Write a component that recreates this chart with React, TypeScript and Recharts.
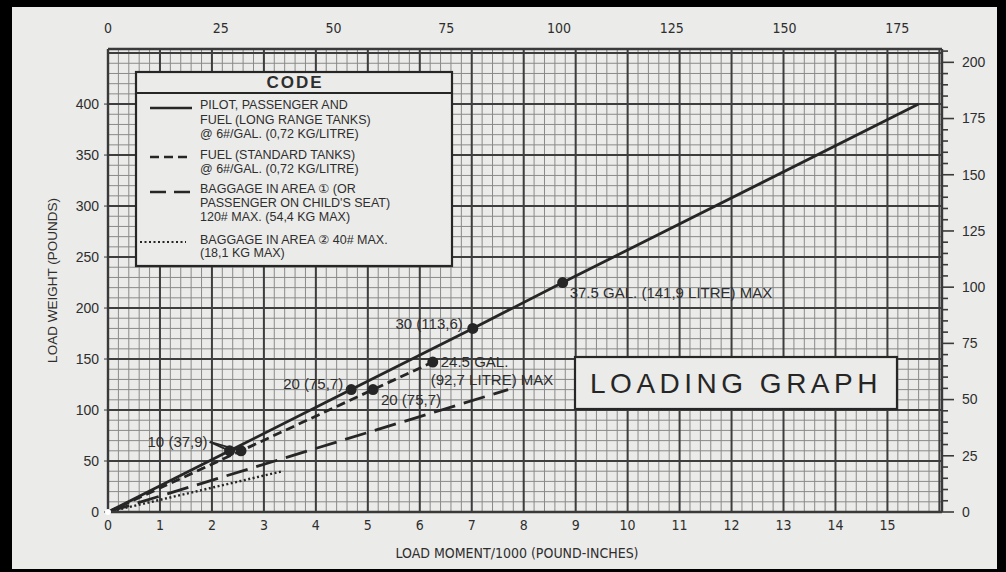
import React from 'react';
import { CartesianGrid, Line, LineChart, ReferenceDot, XAxis, YAxis } from 'recharts';

// load moment/1000 (pound-inches) against load weight (pounds)
const longRangeMoment = [0, 2.34, 4.68, 7.02, 8.75, 15.6];
const longRangeWeight = [0, 60, 120, 180, 225, 400];
const longRangeMarked = [60, 120, 180, 225];

const standardMoment = [0, 2.56, 5.1, 6.25];
const standardWeight = [0, 60, 120, 147];
const standardMarked = [60, 120, 147];

const baggage1Moment = [0, 7.7];
const baggage1Weight = [0, 120];

const baggage2Moment = [0, 3.36];
const baggage2Weight = [0, 40];

const momentTicks = [0, 1, 2, 3, 4, 5, 6, 7, 8, 9, 10, 11, 12, 13, 14, 15];
const weightTicks = [0, 50, 100, 150, 200, 250, 300, 350, 400];
const kgMomentTicks = [0, 25, 50, 75, 100, 125, 150, 175];
const kgWeightLabels = [0, 25, 50, 75, 100, 125, 150, 175, 200];

// axis extents
const X_MAX = 16.05;
const LB_MAX = 454;
const KG_PER_LB = 0.45359;
const KGM_PER_KLBIN = 11.521;

const INK = '#262626';
const TEXT = '#2e2e2e';
const BG = '#ebebe9';
const NARROW = "'Liberation Sans Narrow', 'DejaVu Sans Condensed', 'Liberation Sans', Arial, sans-serif";
const SANS = "'Liberation Sans', Arial, 'DejaVu Sans', sans-serif";

const toRows = (m: number[], w: number[], marked: number[] = []) =>
  m.map((v, i) => ({ m: v, w: w[i], mark: marked.includes(w[i]) }));

const longRangeRows = toRows(longRangeMoment, longRangeWeight, longRangeMarked);
const standardRows = toRows(standardMoment, standardWeight, standardMarked);
const baggage1Rows = toRows(baggage1Moment, baggage1Weight);
const baggage2Rows = toRows(baggage2Moment, baggage2Weight);
// only ties the kg axes into the chart, draws nothing
const kgAxisAnchor = [{ m: 0, w: 0 }];

// grid lines every 0.2 / 10 lb, heavier every 1 / 50 lb
const minorX: number[] = [];
for (let i = 0; i <= 80; i++) minorX.push(+(i * 0.2).toFixed(1));
const minorY: number[] = [];
for (let i = 0; i <= 45; i++) minorY.push(i * 10);
const majorX = [...momentTicks, 16];
const majorY = [...weightTicks, 450];

const kgWeightTicks: number[] = [];
for (let v = 0; v <= 205; v += 5) kgWeightTicks.push(v);

function MarkDot(props: any) {
  const { cx, cy, payload, index } = props;
  if (!payload || !payload.mark) return <g key={`n-${index}`} />;
  return <circle key={`d-${index}`} cx={cx} cy={cy} r={5.5} fill={INK} />;
}

function KgTick(props: any) {
  const { x, y, payload } = props;
  const major = kgWeightLabels.includes(payload.value);
  return (
    <g>
      <line x1={x} y1={y} x2={x + (major ? 12 : 6)} y2={y} stroke="#3a3a3a" strokeWidth={1.6} />
      {major && (
        <text x={x + 20} y={y} dy="0.35em" fill={TEXT} fontSize={14} fontFamily={SANS}>
          {payload.value}
        </text>
      )}
    </g>
  );
}

function Tag(props: any) {
  const { viewBox, lines, dx, dy, anchor = 'start', arrowFrom } = props;
  const x = viewBox.x;
  const y = viewBox.y;
  return (
    <g>
      {arrowFrom && (
        <line x1={x + arrowFrom[0]} y1={y + arrowFrom[1]} x2={x} y2={y} stroke={INK} strokeWidth={1.8} />
      )}
      {lines.map((t: string, i: number) => (
        <text
          key={t}
          x={x + dx + (i > 0 ? props.dx2 || 0 : 0)}
          y={y + dy + i * 18}
          dy="0.35em"
          textAnchor={anchor}
          fill={TEXT}
          fontSize={15}
          fontFamily={SANS}
        >
          {t}
        </text>
      ))}
    </g>
  );
}

function Overlay() {
  const legendText = (t: string, y: number) => (
    <text x={200} y={y} dy="0.35em" fontSize={12.5} fill={TEXT} fontFamily={SANS}>
      {t}
    </text>
  );
  return (
    <svg
      width={1006}
      height={572}
      style={{ position: 'absolute', left: 0, top: 0, pointerEvents: 'none' }}
    >
      {/* code box */}
      <rect x={136} y={72} width={316} height={194} fill={BG} stroke={INK} strokeWidth={2.2} />
      <line x1={136} y1={93} x2={452} y2={93} stroke={INK} strokeWidth={2.2} />
      <text x={295} y={82} dy="0.35em" textAnchor="middle" fontSize={17} fontWeight="bold" letterSpacing={2} fill={TEXT} fontFamily={SANS}>
        CODE
      </text>
      <line x1={150} y1={108} x2={192} y2={108} stroke={INK} strokeWidth={2.6} />
      {legendText('PILOT, PASSENGER AND', 105)}
      {legendText('FUEL (LONG RANGE TANKS)', 120)}
      {legendText('@ 6#/GAL. (0,72 KG/LITRE)', 134)}
      <line x1={150} y1={157} x2={192} y2={157} stroke={INK} strokeWidth={2.6} strokeDasharray="9 5" />
      {legendText('FUEL (STANDARD TANKS)', 155)}
      {legendText('@ 6#/GAL. (0,72 KG/LITRE)', 169)}
      <line x1={150} y1={192} x2={192} y2={192} stroke={INK} strokeWidth={2.6} strokeDasharray="16 8" />
      {legendText('BAGGAGE IN AREA \u2460 (OR', 189)}
      {legendText("PASSENGER ON CHILD'S SEAT)", 203)}
      {legendText('120# MAX. (54,4 KG MAX)', 217)}
      <line x1={140} y1={242} x2={186} y2={242} stroke={INK} strokeWidth={2} strokeDasharray="2 2.5" />
      {legendText('BAGGAGE IN AREA \u2461 40# MAX.', 240)}
      {legendText('(18,1 KG MAX)', 253)}

      {/* title box */}
      <rect x={575} y={357} width={322} height={52} fill={BG} stroke={INK} strokeWidth={2.2} />
      <text x={736} y={383} dy="0.35em" textAnchor="middle" fontSize={28} letterSpacing={4.5} fill="#262626" fontFamily={SANS}>
        LOADING GRAPH
      </text>
    </svg>
  );
}

export default function App() {
  return (
    <div style={{ position: 'absolute', left: 0, top: 0, width: 1006, height: 572, background: '#000' }}>
      <div style={{ position: 'absolute', left: 12, top: 7, width: 985, height: 562, background: BG }} />
      <div style={{ position: 'absolute', left: 0, top: 0 }}>
        <LineChart width={1006} height={572} margin={{ top: 0, right: 0, bottom: 0, left: 0 }}>
          <CartesianGrid verticalValues={minorX} horizontalValues={minorY} stroke="#8a8a8a" strokeWidth={1} />
          <CartesianGrid verticalValues={majorX} horizontalValues={majorY} stroke="#3e3e3e" strokeWidth={2} />
          <XAxis
            type="number"
            dataKey="m"
            domain={[0, X_MAX]}
            ticks={momentTicks}
            interval={0}
            height={60}
            axisLine={{ stroke: '#3a3a3a', strokeWidth: 2.4 }}
            tickLine={false}
            tickSize={0}
            tickMargin={8}
            tick={{ fill: TEXT, fontSize: 14, fontFamily: NARROW }}
            label={(p: any) => (
              <text
                x={p.viewBox.x + p.viewBox.width / 2 - 8}
                y={553}
                dy="0.35em"
                textAnchor="middle"
                fill={TEXT}
                fontSize={14}
                fontFamily={NARROW}
              >
                LOAD MOMENT/1000 (POUND-INCHES)
              </text>
            )}
          />
          <XAxis
            xAxisId="kg"
            orientation="top"
            type="number"
            dataKey="m"
            domain={[0, X_MAX * KGM_PER_KLBIN]}
            ticks={kgMomentTicks}
            interval={0}
            height={49}
            axisLine={{ stroke: '#3a3a3a', strokeWidth: 2.4 }}
            tickLine={false}
            tickSize={0}
            tickMargin={16}
            tick={{ fill: TEXT, fontSize: 14, fontFamily: NARROW }}
          />
          <YAxis
            type="number"
            domain={[0, LB_MAX]}
            ticks={weightTicks}
            interval={0}
            width={108}
            axisLine={{ stroke: '#3a3a3a', strokeWidth: 2.4 }}
            tickLine={{ stroke: '#3a3a3a' }}
            tickSize={4}
            tickMargin={5}
            tick={{ fill: TEXT, fontSize: 14, fontFamily: SANS }}
            label={(p: any) => (
              <text
                x={52}
                y={p.viewBox.y + p.viewBox.height / 2}
                dy="0.35em"
                textAnchor="middle"
                transform={`rotate(-90 52 ${p.viewBox.y + p.viewBox.height / 2})`}
                fill={TEXT}
                fontSize={13.5}
                fontFamily={SANS}
              >
                LOAD WEIGHT (POUNDS)
              </text>
            )}
          />
          <YAxis
            yAxisId="kg"
            orientation="right"
            type="number"
            domain={[0, LB_MAX * KG_PER_LB]}
            ticks={kgWeightTicks}
            interval={0}
            width={64}
            axisLine={{ stroke: '#3a3a3a', strokeWidth: 2.4 }}
            tickLine={false}
            tickSize={0}
            tickMargin={0}
            tick={<KgTick />}
          />

          <Line
            xAxisId="kg"
            yAxisId="kg"
            data={kgAxisAnchor}
            dataKey="w"
            stroke="none"
            dot={false}
            legendType="none"
            isAnimationActive={false}
          />
          <Line data={baggage2Rows} dataKey="w" stroke={INK} strokeWidth={2.4} strokeDasharray="2 2.5" dot={false} isAnimationActive={false} />
          <Line data={baggage1Rows} dataKey="w" stroke={INK} strokeWidth={2.8} strokeDasharray="22 9" dot={false} isAnimationActive={false} />
          <Line data={standardRows} dataKey="w" stroke={INK} strokeWidth={2.8} strokeDasharray="9 5" dot={MarkDot} isAnimationActive={false} />
          <Line data={longRangeRows} dataKey="w" stroke={INK} strokeWidth={2.8} dot={MarkDot} isAnimationActive={false} />

          <ReferenceDot
            x={longRangeMoment[1]}
            y={longRangeWeight[1]}
            r={0}
            label={<Tag lines={['10 (37,9)']} dx={-22} dy={-9} anchor="end" arrowFrom={[-20, -9]} />}
          />
          <ReferenceDot
            x={standardMoment[1]}
            y={standardWeight[1]}
            r={0}
            label={<Tag lines={[]} dx={0} dy={0} arrowFrom={[-31, -9]} />}
          />
          <ReferenceDot
            x={longRangeMoment[2]}
            y={longRangeWeight[2]}
            r={0}
            label={<Tag lines={['20 (75,7)']} dx={-8} dy={-6} anchor="end" />}
          />
          <ReferenceDot
            x={standardMoment[2]}
            y={standardWeight[2]}
            r={0}
            label={<Tag lines={['20 (75,7)']} dx={8} dy={10} />}
          />
          <ReferenceDot
            x={longRangeMoment[3]}
            y={longRangeWeight[3]}
            r={0}
            label={<Tag lines={['30 (113,6)']} dx={-10} dy={-5} anchor="end" />}
          />
          <ReferenceDot
            x={standardMoment[3]}
            y={standardWeight[3]}
            r={0}
            label={<Tag lines={['24.5 GAL.', '(92,7 LITRE) MAX']} dx={8} dx2={-10} dy={0} />}
          />
          <ReferenceDot
            x={longRangeMoment[4]}
            y={longRangeWeight[4]}
            r={0}
            label={<Tag lines={['37.5 GAL. (141,9 LITRE) MAX']} dx={7} dy={10} />}
          />
        </LineChart>
      </div>
      <Overlay />
    </div>
  );
}
